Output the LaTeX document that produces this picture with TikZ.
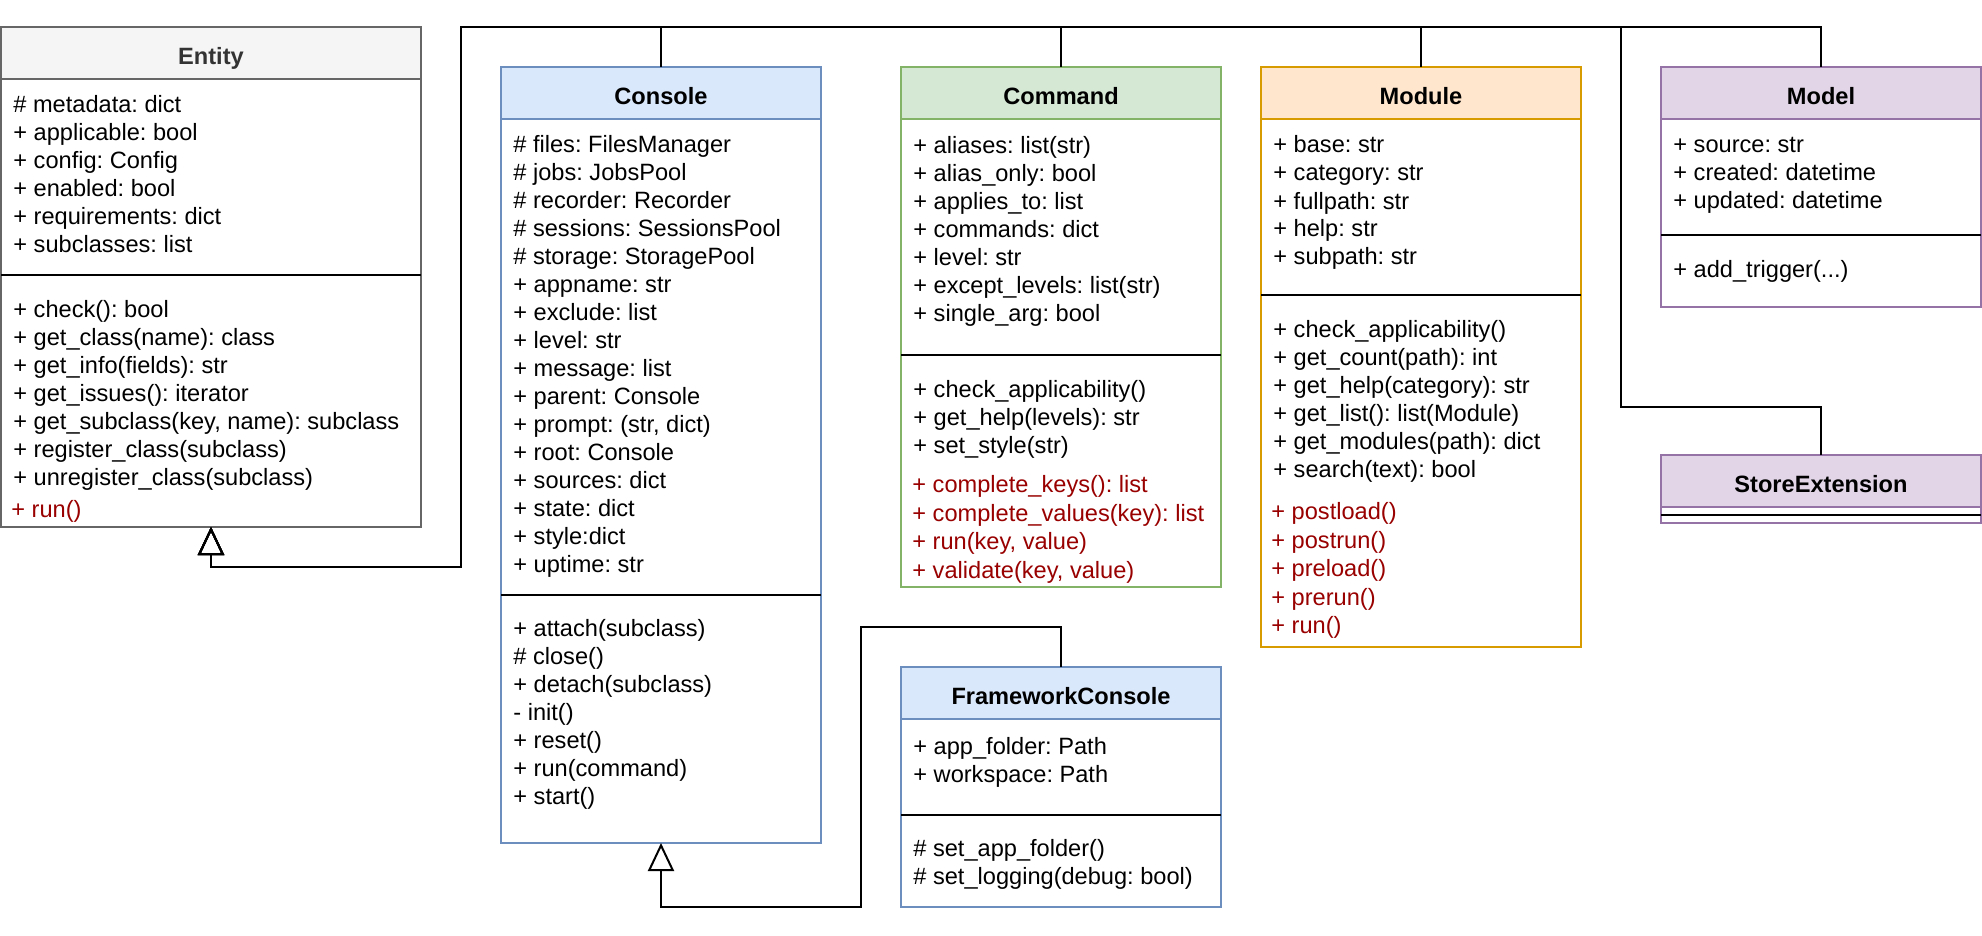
\documentclass[tikz,border=0pt]{standalone}
\usepackage{fontspec}
\setmainfont{Liberation Sans}
\usetikzlibrary{arrows.meta}
\definecolor{entfill}{HTML}{F5F5F5}
\definecolor{entline}{HTML}{666666}
\definecolor{enttext}{HTML}{333333}
\definecolor{bluefill}{HTML}{DAE8FC}
\definecolor{blueline}{HTML}{6C8EBF}
\definecolor{greenfill}{HTML}{D5E8D4}
\definecolor{greenline}{HTML}{82B366}
\definecolor{orangefill}{HTML}{FFE6CC}
\definecolor{orangeline}{HTML}{D79B00}
\definecolor{purplefill}{HTML}{E1D5E7}
\definecolor{purpleline}{HTML}{9673A6}
\definecolor{darkred}{HTML}{990000}
\newcommand\umlfont{\frenchspacing\fontsize{11.8}{14}\selectfont}
\newcommand\umlredfont{\frenchspacing\fontsize{11.8}{14.25}\selectfont}
\begin{document}
\begin{tikzpicture}[x=0.5pt,y=-0.5pt,
  classbox/.style={draw, fill=white, line width=1pt, anchor=north west, inner sep=0pt, outer sep=0pt},
  hdr/.style={draw, line width=1pt, anchor=north west, inner sep=0pt, outer sep=0pt, minimum height=26pt},
  sep/.style={draw=black, line width=1pt},
  title/.style={anchor=base, inner sep=0pt, font=\umlfont\bfseries},
  txt/.style={anchor=north west, inner sep=0pt, align=left, font=\umlfont},
  redtxt/.style={anchor=north west, inner sep=0pt, align=left, font=\umlredfont, text=darkred},
  inh/.style={draw=black, line width=1pt, line join=miter, -{Triangle[open, length=14pt, width=13pt]}}
]
\useasboundingbox (0,0) rectangle (1982,936);

% Entity
\node[classbox, draw=entline, minimum width=210pt, minimum height=250pt] (entity) at (1,27) {};
\node[hdr, fill=entfill, draw=entline, minimum width=210pt] (entity-h) at (1,27) {};
\node[title, text=enttext] (entity-t) at ([yshift=-5.6pt]entity-h.center) {Entity};
\draw[sep] (1,275) -- (421,275);
\node[txt] (entity-a) at (13,93) {\strut\# metadata: dict\\+ applicable: bool\\+ config: Config\\+ enabled: bool\\+ requirements: dict\\+ subclasses: list};
\node[txt] (entity-m) at (13,297) {\strut+ check(): bool\\+ get\_class(name): class\\+ get\_info(fields): str\\+ get\_issues(): iterator\\+ get\_subclass(key, name): subclass\\+ register\_class(subclass)\\+ unregister\_class(subclass)};
\node[redtxt] (entity-r) at (11,497) {\strut+ run()};

% Console
\node[classbox, draw=blueline, minimum width=160pt, minimum height=388pt] (console) at (501,67) {};
\node[hdr, fill=bluefill, draw=blueline, minimum width=160pt] (console-h) at (501,67) {};
\node[title] (console-t) at ([yshift=-5.6pt]console-h.center) {Console};
\draw[sep] (501,595) -- (821,595);
\node[txt] (console-a) at (513,132) {\strut\# files: FilesManager\\\# jobs: JobsPool\\\# recorder: Recorder\\\# sessions: SessionsPool\\\# storage: StoragePool\\+ appname: str\\+ exclude: list\\+ level: str\\+ message: list\\+ parent: Console\\+ prompt: (str, dict)\\+ root: Console\\+ sources: dict\\+ state: dict\\+ style:dict\\+ uptime: str};
\node[txt] (console-m) at (513,616.5) {\strut+ attach(subclass)\\\# close()\\+ detach(subclass)\\- init()\\+ reset()\\+ run(command)\\+ start()};

% Command
\node[classbox, draw=greenline, minimum width=160pt, minimum height=260pt] (command) at (901,67) {};
\node[hdr, fill=greenfill, draw=greenline, minimum width=160pt] (command-h) at (901,67) {};
\node[title] (command-t) at ([yshift=-5.6pt]command-h.center) {Command};
\draw[sep] (901,355) -- (1221,355);
\node[txt] (command-a) at (913,133.5) {\strut+ aliases: list(str)\\+ alias\_only: bool\\+ applies\_to: list\\+ commands: dict\\+ level: str\\+ except\_levels: list(str)\\+ single\_arg: bool};
\node[txt] (command-m) at (913,377) {\strut+ check\_applicability()\\+ get\_help(levels): str\\+ set\_style(str)};
\node[redtxt] (command-r) at (912,472.5) {\strut+ complete\_keys(): list\\+ complete\_values(key): list\\+ run(key, value)\\+ validate(key, value)};

% Module
\node[classbox, draw=orangeline, minimum width=160pt, minimum height=290pt] (module) at (1261,67) {};
\node[hdr, fill=orangefill, draw=orangeline, minimum width=160pt] (module-h) at (1261,67) {};
\node[title] (module-t) at ([yshift=-5.6pt]module-h.center) {Module};
\draw[sep] (1261,295) -- (1581,295);
\node[txt] (module-a) at (1273,133) {\strut+ base: str\\+ category: str\\+ fullpath: str\\+ help: str\\+ subpath: str};
\node[txt] (module-m) at (1273,317.5) {\strut+ check\_applicability()\\+ get\_count(path): int\\+ get\_help(category): str\\+ get\_list(): list(Module)\\+ get\_modules(path): dict\\+ search(text): bool};
\node[redtxt] (module-r) at (1271,499.5) {\strut+ postload()\\+ postrun()\\+ preload()\\+ prerun()\\+ run()};

% Model
\node[classbox, draw=purpleline, minimum width=160pt, minimum height=120pt] (model) at (1661,67) {};
\node[hdr, fill=purplefill, draw=purpleline, minimum width=160pt] (model-h) at (1661,67) {};
\node[title] (model-t) at ([yshift=-5.6pt]model-h.center) {Model};
\draw[sep] (1661,235) -- (1981,235);
\node[txt] (model-a) at (1673,133) {\strut+ source: str\\+ created: datetime\\+ updated: datetime};
\node[txt] (model-m) at (1673,258) {\strut+ add\_trigger(...)};

% StoreExtension
\node[classbox, draw=purpleline, minimum width=160pt, minimum height=34pt] (store) at (1661,455) {};
\node[hdr, fill=purplefill, draw=purpleline, minimum width=160pt] (store-h) at (1661,455) {};
\node[title] (store-t) at ([yshift=-5.6pt]store-h.center) {StoreExtension};
\draw[sep] (1661,515) -- (1981,515);

% FrameworkConsole
\node[classbox, draw=blueline, minimum width=160pt, minimum height=120pt] (fc) at (901,667) {};
\node[hdr, fill=bluefill, draw=blueline, minimum width=160pt] (fc-h) at (901,667) {};
\node[title] (fc-t) at ([yshift=-5.6pt]fc-h.center) {FrameworkConsole};
\draw[sep] (901,815) -- (1221,815);
\node[txt] (fc-a) at (913,734) {\strut+ app\_folder: Path\\+ workspace: Path};
\node[txt] (fc-m) at (913,836) {\strut\# set\_app\_folder()\\\# set\_logging(debug: bool)};

% Connectors
\coordinate (busL) at (461,27);
\coordinate (busB) at (461,567);
\coordinate (seBend) at (1621,407);
\coordinate (fcA) at (861,627);
\coordinate (fcB) at (861,907);
\draw[inh] (console.north) |- (busL) -- (busB) -| (entity.south);
\draw[inh] (command.north) |- (busL) -- (busB) -| (entity.south);
\draw[inh] (module.north) |- (busL) -- (busB) -| (entity.south);
\draw[inh] (model.north) |- (busL) -- (busB) -| (entity.south);
\draw[inh] (store.north) |- (seBend) |- (busL) -- (busB) -| (entity.south);
\draw[inh] (fc.north) |- (fcA) -- (fcB) -| (console.south);
\end{tikzpicture}
\end{document}
